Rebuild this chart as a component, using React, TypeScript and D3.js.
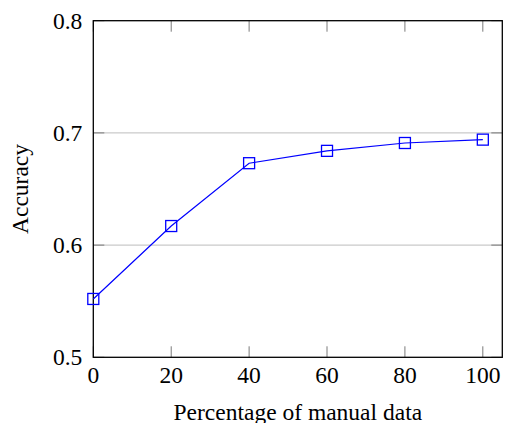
import React, { useEffect, useRef } from "react"
import * as d3 from "d3"

// percentage of manual data used (x) and resulting accuracy (y)
const percentages = [0, 20, 40, 60, 80, 100]
const accuracy = [0.552, 0.617, 0.673, 0.684, 0.691, 0.694]
const xTicks = [0, 20, 40, 60, 80, 100]
const yTicks = [0.5, 0.6, 0.7, 0.8]
const xLabel = "Percentage of manual data"
const yLabel = "Accuracy"

const WIDTH = 505
const HEIGHT = 423

const LineChart = () => {
	const ref = useRef<SVGSVGElement>(null)

	useEffect(() => {
		const margin = { top: 20.7, right: 2.7, bottom: 65.7, left: 93.3 }
		const svg = d3.select(ref.current)
		svg.selectAll("*").remove()

		const font = "'Liberation Serif', 'Times New Roman', serif"

		const x = d3
			.scaleLinear()
			.domain([0, 105])
			.range([margin.left, WIDTH - margin.right])
		const y = d3
			.scaleLinear()
			.domain([0.5, 0.8])
			.range([HEIGHT - margin.bottom, margin.top])

		const [x0, x1] = x.range()
		const [y0, y1] = y.range()
		const tickLen = 11

		// horizontal grid lines
		svg
			.append("g")
			.selectAll("line")
			.data(yTicks.filter(d => d > 0.5 && d < 0.8))
			.join("line")
			.attr("x1", x0)
			.attr("x2", x1)
			.attr("y1", d => y(d))
			.attr("y2", d => y(d))
			.attr("stroke", "#bdbdbd")
			.attr("stroke-width", 1)

		// y ticks on both sides
		const yt = svg.append("g").attr("stroke", "#7a7a7a").attr("stroke-width", 1)
		yTicks.forEach(d => {
			yt.append("line").attr("x1", x0).attr("x2", x0 + tickLen).attr("y1", y(d)).attr("y2", y(d))
			yt.append("line").attr("x1", x1).attr("x2", x1 - tickLen).attr("y1", y(d)).attr("y2", y(d))
		})

		// x ticks on top and bottom
		const xt = svg.append("g").attr("stroke", "#7a7a7a").attr("stroke-width", 1)
		xTicks.forEach(d => {
			xt.append("line").attr("x1", x(d)).attr("x2", x(d)).attr("y1", y0).attr("y2", y0 - tickLen)
			xt.append("line").attr("x1", x(d)).attr("x2", x(d)).attr("y1", y1).attr("y2", y1 + tickLen)
		})

		// frame
		svg
			.append("rect")
			.attr("x", x0)
			.attr("y", y1)
			.attr("width", x1 - x0)
			.attr("height", y0 - y1)
			.attr("fill", "none")
			.attr("stroke", "#000")
			.attr("stroke-width", 1.3)

		// tick labels
		svg
			.append("g")
			.selectAll("text")
			.data(yTicks)
			.join("text")
			.attr("x", x0 - 11)
			.attr("y", d => y(d))
			.attr("dy", "0.34em")
			.attr("text-anchor", "end")
			.style("font-family", font)
			.style("font-size", "23.5px")
			.attr("fill", "#000")
			.text(d => d.toFixed(1))

		svg
			.append("g")
			.selectAll("text")
			.data(xTicks)
			.join("text")
			.attr("x", d => x(d))
			.attr("y", y0 + 18)
			.attr("dy", "0.34em")
			.attr("text-anchor", "middle")
			.style("font-family", font)
			.style("font-size", "23.5px")
			.attr("fill", "#000")
			.text(d => d)

		// axis titles
		svg
			.append("text")
			.attr("x", (x0 + x1) / 2)
			.attr("y", 419.5)
			.attr("text-anchor", "middle")
			.style("font-family", font)
			.style("font-size", "23.5px")
			.attr("fill", "#000")
			.text(xLabel)

		svg
			.append("text")
			.attr("transform", `translate(28,${(y0 + y1) / 2}) rotate(-90)`)
			.attr("text-anchor", "middle")
			.style("font-family", font)
			.style("font-size", "23.5px")
			.attr("fill", "#000")
			.text(yLabel)

		// the series
		const points = percentages.map((p, i) => [p, accuracy[i]] as [number, number])
		const line = d3
			.line<[number, number]>()
			.x(d => x(d[0]))
			.y(d => y(d[1]))

		svg
			.append("path")
			.datum(points)
			.attr("d", line)
			.attr("fill", "none")
			.attr("stroke", "#0000ff")
			.attr("stroke-width", 1.2)

		const s = 11
		svg
			.append("g")
			.selectAll("rect")
			.data(points)
			.join("rect")
			.attr("x", d => x(d[0]) - s / 2)
			.attr("y", d => y(d[1]) - s / 2)
			.attr("width", s)
			.attr("height", s)
			.attr("fill", "none")
			.attr("stroke", "#0000ff")
			.attr("stroke-width", 1.3)
	}, [])

	return (
		<svg
			ref={ref}
			width={WIDTH}
			height={HEIGHT}
			style={{ position: "absolute", left: 0, top: 0, background: "#fff" }}
		></svg>
	)
}

export default function App() {
	return <LineChart />
}
